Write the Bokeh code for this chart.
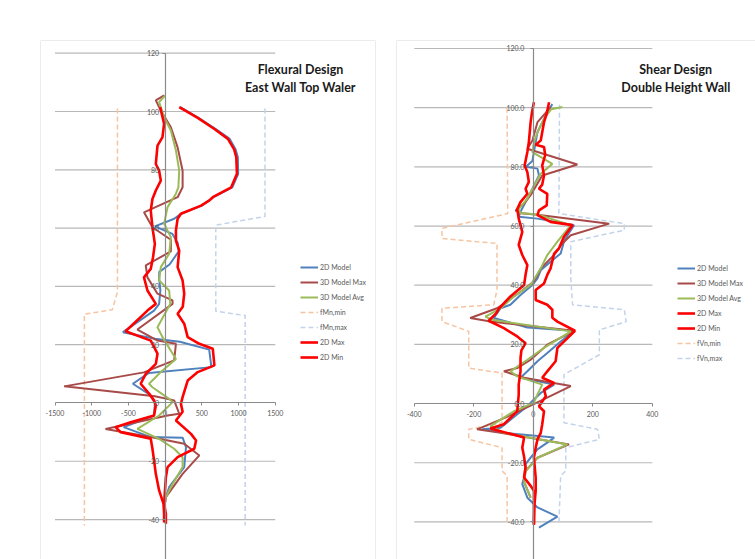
from bokeh.plotting import figure
from bokeh.models import Range1d, FixedTicker, Legend, LegendItem, Label, Span
from bokeh.layouts import row
from bokeh.embed import file_html
from bokeh.resources import INLINE

# ---------------- Left chart: Flexural Design, East Wall Top Waler ----------------
flex_x_ticks = [-1500, -1000, -500, 0, 500, 1000, 1500]
flex_x_labels = ["-1500", "-1000", "-500", "0", "500", "1000", "1500"]
flex_y_ticks = [-40, -20, 0, 20, 40, 60, 80, 100, 120]
flex_y_labels = ["-40", "-20", "0", "20", "40", "60", "80", "100", "120"]
flex_grid_y = [-40, -20, 20, 40, 60, 80, 100, 120]

flex_2d_model_y = [101.5, 97.8, 94.0, 90.6, 87.0, 84.3, 78.6, 74.0, 70.6, 67.7, 64.9, 63.2, 60.6, 58.0, 55.0,
                   52.0, 47.5, 45.0, 43.0, 38.6, 34.0, 31.7, 24.3, 22.0, 21.0, 18.3, 12.3, 10.3, 6.6, 2.8, 0.0,
                   -4.3, -8.3, -11.7, -11.9, -15.2, -22.0, -28.9, -32.3, -34.0]
flex_2d_model_x = [205, 455, 690, 880, 960, 990, 995, 915, 660, 500, 215, 123, -140, 100, 170,
                   185, 60, -80, -82, -65, -82, -151, -575, -140, 200, 600, 630, -220, -440, -205, -140,
                   -151, -565, -196, 238, 284, 260, 55, 10, 0]

flex_3d_max_y = [105.5, 103.8, 100.3, 94.6, 87.7, 79.7, 74.0, 70.6, 65.4, 60.3, 56.0, 52.0, 47.2, 43.1, 37.5,
                 35.2, 34.0, 25.2, 21.4, 20.3, 14.6, 10.5, 5.7, 2.3, 0.9, -3.7, -4.3, -8.9, -11.7, -14.0,
                 -18.0, -24.3, -32.3, -34.0]
flex_3d_max_x = [-14, -127, -59, 78, 170, 238, 238, 170, -288, -173, 78, 78, -264, -241, -104,
                 101, 101, -378, -104, 147, 123, -290, -1375, -140, 123, 192, 33, -812, -196, 260,
                 466, 238, 10, 0]

flex_3d_avg_y = [105.5, 103.2, 98.0, 93.5, 86.6, 79.7, 74.0, 71.8, 67.2, 61.5, 56.9, 51.2, 46.6, 42.0, 38.6,
                 34.0, 26.0, 22.6, 15.1, 10.6, 6.6, 5.4, 1.4, 0.3, -4.3, -8.9, -12.3, -15.7, -18.6, -22.0,
                 -28.9, -32.3, -34.0]
flex_3d_avg_x = [0, -82, -14, 78, 147, 192, 180, 147, 33, -14, 78, 55, -59, -82, 55,
                 70, -104, -36, 147, -59, -219, -173, 55, 101, -82, -378, -82, 123, 238, 238,
                 78, 10, 0]

flex_2d_max_y = [101.5, 97.8, 94.0, 90.6, 87.0, 84.3, 78.6, 74.0, 70.6, 69.5, 67.7, 64.9, 63.2, 59.2, 55.7,
                 52.3, 46.6, 42.0, 37.5, 33.0, 30.6, 27.2, 22.6, 20.3, 18.6, 12.9, 10.6, 7.7, 2.0, -0.3,
                 -3.0, -6.0, -10.6, -12.9, -15.7, -18.6, -22.0, -25.5, -34.6, -38.0, -41.4]
flex_2d_max_x = [192, 444, 671, 855, 940, 969, 978, 900, 649, 603, 489, 215, 170, 147, 147,
                 192, 170, 238, 260, 240, 170, 260, 307, 466, 649, 671, 444, 307, 238, 215,
                 238, 147, 352, 421, 397, 170, 33, 10, -14, 10, 10]

flex_2d_min_y = [101.5, 95.8, 91.2, 88.3, 82.0, 79.7, 76.3, 72.9, 70.0, 66.0, 60.3, 54.6, 50.0, 46.0, 43.1,
                 38.6, 34.0, 31.7, 24.6, 21.4, 16.9, 13.4, 10.0, 6.6, 3.2, 0.9, -0.9, -4.3, -6.6, -8.3,
                 -10.0, -12.3, -15.7, -19.7, -24.3, -30.0, -34.6, -38.0, -41.0]
flex_2d_min_x = [-68, -14, -36, -104, -127, -82, -59, -127, -173, -196, -173, -140, -165, -196, -288,
                 -241, -127, -241, -538, -196, -104, -127, -264, -333, -219, -151, -127, -151, -470, -675,
                 -607, -196, -173, -151, -127, -82, -22, -14, -14]

flex_fmn_min_x = [-650, -650, -720, -1100, -1100]
flex_fmn_min_y = [101, 38, 32, 30.5, -42]
flex_fmn_max_x = [1360, 1360, 690, 690, 1090, 1090]
flex_fmn_max_y = [101, 64, 61, 31.5, 30, -42]

flex_title = ["Flexural Design", "East Wall Top Waler"]

# ---------------- Right chart: Shear Design, Double Height Wall ----------------
shear_x_ticks = [-400, -200, 0, 200, 400]
shear_x_labels = ["-400", "-200", "0", "200", "400"]
shear_y_ticks = [-40, -20, 0, 20, 40, 60, 80, 100, 120]
shear_y_labels = ["-40.0", "-20.0", "0.0", "20.0", "40.0", "60.0", "80.0", "100.0", "120.0"]
shear_grid_y = [-40, -20, 20, 40, 60, 80, 100, 120]

shear_2d_model_y = [101.2, 98.5, 91.7, 86.7, 82.0, 80.0, 79.4, 77.1, 72.6, 69.3, 64.8, 63.1, 62.5, 60.3, 56.9,
                    54.7, 50.7, 47.9, 45.1, 42.3, 40.1, 36.7, 33.4, 32.2, 30.5, 28.9, 25.7, 24.6, 21.0, 17.1,
                    14.3, 10.9, 8.7, 6.4, 3.6, 1.4, -0.9, -8.2, -8.7, -9.9, -11.5, -13.2, -15.5, -18.3, -20.5,
                    -25.0, -27.2, -31.8, -35.1, -38.2, -41.9]
shear_2d_model_x = [64, 47, 14, 5, -3, -25, 14, 19, -3, -20, -43, -49, 14, 137, 115,
                    103, 92, 58, 25, 14, -3, -43, -77, -110, -122, -133, -20, 137, 92, 47,
                    14, -20, -43, 70, 25, 2, -20, -110, -172, -99, 70, 47, 14, -9, -26,
                    -31, -37, -20, 14, 81, 19]

shear_3d_max_y = [100.1, 95.1, 88.9, 86.1, 80.8, 77.1, 70.4, 67.6, 65.2, 64.3, 63.8, 60.8, 56.9, 54.1, 50.2,
                  45.7, 41.2, 37.8, 34.5, 32.2, 28.9, 27.7, 24.6, 19.9, 14.8, 12.0, 10.9, 8.7, 5.9, 0.0,
                  -4.5, -8.7, -9.9, -13.8, -18.3, -22.8, -26.5, -31.8]
shear_3d_max_x = [58, 14, -3, -20, 148, 30, -9, -31, -60, -40, 14, 255, 126, 98, 70,
                  25, 2, -43, -88, -122, -212, -144, 137, 47, -9, -54, -99, -31, 126, 5,
                  -88, -189, -110, 120, 14, -26, -31, -9]

shear_3d_avg_y = [100.2, 99.5, 96.2, 91.7, 88.3, 85.0, 81.0, 77.7, 72.6, 69.3, 65.7, 64.4, 63.9, 60.3, 54.7,
                  50.2, 45.7, 40.1, 36.2, 32.2, 29.4, 28.3, 24.4, 18.8, 14.8, 10.9, 9.2, 6.4, 3.1, 0.3,
                  -2.6, -7.6, -9.9, -13.8, -18.3, -22.8, -26.5, -31.8]
shear_3d_avg_x = [98, 60, 36, 14, 2, -3, 64, 25, -3, -20, -49, -43, 14, 126, 81,
                  47, 25, -9, -65, -110, -161, -138, 126, 36, -20, -77, -54, 30, 14, 2,
                  -65, -144, -99, 115, 14, -26, -31, -9]

shear_2d_max_y = [101.8, 98.0, 95.1, 88.9, 87.5, 86.7, 84.0, 80.5, 77.1, 74.0, 72.6, 70.9, 67.0, 65.3, 63.7,
                  61.4, 60.3, 56.4, 52.4, 50.7, 45.7, 43.5, 40.6, 38.4, 35.0, 33.4, 31.7, 29.0, 27.7, 24.6,
                  22.1, 18.8, 14.3, 10.9, 8.7, 7.0, 4.7, 2.5, -0.9, -2.6, -7.0, -9.9, -12.1, -14.9, -18.3,
                  -25.0, -29.5, -34.0, -40.7]
shear_2d_max_x = [53, 45, 36, 25, 8, 36, 40, 30, 36, 30, 19, 47, 45, 19, 14,
                  58, 132, 103, 86, 70, 58, 47, 36, 8, 8, 47, 64, 64, 81, 140,
                  115, 81, 75, 47, 30, 70, 36, 42, 19, 36, 30, 25, 14, 8, 2,
                  8, 8, 4, 2]

shear_2d_min_y = [101.8, 98.0, 95.1, 88.3, 85.0, 80.5, 78.2, 74.9, 72.6, 70.9, 68.1, 65.7, 62.5, 58.0, 53.6,
                  50.2, 46.8, 43.5, 40.1, 36.2, 32.2, 30.5, 28.0, 25.5, 22.7, 20.4, 18.0, 15.4, 10.9, 6.4,
                  3.0, -2.6, -7.0, -8.4, -11.5, -14.9, -18.0, -21.6, -25.0, -27.8, -29.5, -35.0, -41.0]
shear_2d_min_x = [2, -5, -9, -15, -20, -29, -20, -15, -26, -20, -43, -54, -49, -37, -49,
                  -37, -20, -26, -31, -77, -115, -125, -150, -99, -54, -26, -40, -43, -43, -49,
                  -49, -54, -99, -144, -31, -37, -31, -26, -31, -9, 2, 2, 2]

shear_fvn_min_x = [-88, -86, -307, -307, -122, -122, -133, -307, -307, -217, -217, -105, -105, -217, -217,
                   -105, -105, -88, -88]
shear_fvn_min_y = [100, 64.2, 59.2, 55.8, 54.1, 38.4, 33.4, 32.2, 27.7, 24.4, 12.0, 10.3, -6.5, -8.7, -12.1,
                   -14.9, -22.8, -24.4, -40.7]
shear_fvn_max_x = [88, 86, 306, 306, 126, 126, 132, 306, 312, 222, 222, 103, 103, 216, 222,
                   109, 109, 92, 86]
shear_fvn_max_y = [101, 64.2, 60.8, 58.6, 54.7, 42.3, 33.4, 31.7, 27.7, 24.9, 16.5, 9.8, -6.5, -8.7, -12.1,
                   -14.9, -22.8, -24.4, -40.7]

shear_title = ["Shear Design", "Double Height Wall"]

# ---------------- styling ----------------
FONT = "Lato"
C_MODEL = "#4F81BD"
C_3DMAX = "#A84B48"
C_3DAVG = "#9BBB59"
C_RED = "#FF0000"
C_FMIN = "#F6C4A0"
C_FMAX = "#C3D3EA"
TEXT = "#595959"
AXIS = "#8a8a8a"
GRID = "#b8b8b8"
BORDER = "#d9d9d9"


def build(width, height, b_left, b_top, b_right, xr, yr, x_ticks, x_labels, y_ticks, y_labels,
          grid_y, title_lines, title_x, title_y, y_standoff):
    p = figure(width=width, height=height, x_range=Range1d(*xr), y_range=Range1d(*yr),
               output_backend="svg", toolbar_location=None, title=None,
               min_border_left=b_left, min_border_right=b_right,
               min_border_top=b_top, min_border_bottom=0)
    p.outline_line_color = None
    p.grid.visible = False
    p.background_fill_color = "white"
    p.border_fill_color = "white"

    n = len(grid_y)
    p.segment(x0=[x_ticks[0]] * n, y0=grid_y, x1=[x_ticks[-1]] * n, y1=grid_y,
              line_color=GRID, line_width=1.2)

    xa = p.xaxis[0]
    xa.fixed_location = 0
    xa.ticker = FixedTicker(ticks=x_ticks)
    xa.major_label_overrides = dict(zip(x_ticks, x_labels))
    xa.bounds = (x_ticks[0], x_ticks[-1])
    ya = p.yaxis[0]
    ya.fixed_location = 0
    ya.ticker = FixedTicker(ticks=y_ticks)
    ya.major_label_overrides = dict(zip(y_ticks, y_labels))
    ya.bounds = (yr[0], y_ticks[-1])
    for ax in (xa, ya):
        ax.axis_line_color = AXIS
        ax.axis_line_width = 1.2
        ax.major_tick_line_color = AXIS
        ax.major_tick_in = 0
        ax.major_tick_out = 3
        ax.minor_tick_line_color = None
        ax.major_label_text_font = FONT
        ax.major_label_text_font_size = "7px"
        ax.major_label_text_color = TEXT
    xa.major_label_standoff = 4
    ya.major_label_standoff = y_standoff

    for i, t in enumerate(title_lines):
        p.add_layout(Label(x=title_x, y=title_y[i], text=t, text_align="center",
                           text_baseline="middle", text_font=FONT, text_font_style="bold",
                           text_font_size="12.5px", text_color="#1a1a1a"))

    p.add_layout(Span(location=xr[0], dimension="height", line_color=BORDER, line_width=1))
    p.add_layout(Span(location=yr[1], dimension="width", line_color=BORDER, line_width=1))
    return p


# ---- left figure ----
FLEX_XR = (-1697.5, 2865.0)
FLEX_YR = (-53.7, 124.36)
p1 = build(385, 559, 40, 40, 10, FLEX_XR, FLEX_YR,
           flex_x_ticks, flex_x_labels, flex_y_ticks, flex_y_labels, flex_grid_y,
           flex_title, 1843.7, [114.3, 108.1], 3)
p1.add_layout(Span(location=FLEX_XR[1], dimension="height", line_color=BORDER, line_width=1))

r1 = {}
r1["fMn,min"] = p1.line(flex_fmn_min_x, flex_fmn_min_y, line_color=C_FMIN, line_width=1.5, line_dash="5 3")
r1["fMn,max"] = p1.line(flex_fmn_max_x, flex_fmn_max_y, line_color=C_FMAX, line_width=1.5, line_dash="5 3")
r1["2D Model"] = p1.line(flex_2d_model_x, flex_2d_model_y, line_color=C_MODEL, line_width=2)
r1["3D Model Max"] = p1.line(flex_3d_max_x, flex_3d_max_y, line_color=C_3DMAX, line_width=2)
r1["3D Model Avg"] = p1.line(flex_3d_avg_x, flex_3d_avg_y, line_color=C_3DAVG, line_width=2)
r1["2D Max"] = p1.line(flex_2d_max_x, flex_2d_max_y, line_color=C_RED, line_width=2.6)
r1["2D Min"] = p1.line(flex_2d_min_x, flex_2d_min_y, line_color=C_RED, line_width=2.6)
order1 = ["2D Model", "3D Model Max", "3D Model Avg", "fMn,min", "fMn,max", "2D Max", "2D Min"]

# ---- right figure ----
SHEAR_XR = (-459.8, 746.8)
SHEAR_YR = (-52.7, 122.7)
p2 = build(370, 559, 11, 38, 0, SHEAR_XR, SHEAR_YR,
           shear_x_ticks, shear_x_labels, shear_y_ticks, shear_y_labels, shear_grid_y,
           shear_title, 479.0, [113.0, 106.9], 6)

r2 = {}
r2["fVn,min"] = p2.line(shear_fvn_min_x, shear_fvn_min_y, line_color=C_FMIN, line_width=1.5, line_dash="5 3")
r2["fVn,max"] = p2.line(shear_fvn_max_x, shear_fvn_max_y, line_color=C_FMAX, line_width=1.5, line_dash="5 3")
r2["2D Model"] = p2.line(shear_2d_model_x, shear_2d_model_y, line_color=C_MODEL, line_width=2)
r2["3D Model Max"] = p2.line(shear_3d_max_x, shear_3d_max_y, line_color=C_3DMAX, line_width=2)
r2["3D Model Avg"] = p2.line(shear_3d_avg_x, shear_3d_avg_y, line_color=C_3DAVG, line_width=2)
r2["2D Max"] = p2.line(shear_2d_max_x, shear_2d_max_y, line_color=C_RED, line_width=2.6)
r2["2D Min"] = p2.line(shear_2d_min_x, shear_2d_min_y, line_color=C_RED, line_width=2.6)
order2 = ["2D Model", "3D Model Max", "3D Model Avg", "2D Max", "2D Min", "fVn,min", "fVn,max"]


def make_legend(rends, order, loc):
    items = [LegendItem(label=k, renderers=[rends[k]]) for k in order]
    return Legend(items=items, location=loc, orientation="vertical",
                  background_fill_alpha=0, border_line_color=None, padding=0, margin=0,
                  spacing=5, glyph_width=18, glyph_height=10, label_height=10,
                  label_standoff=2, label_text_font=FONT, label_text_font_size="7px",
                  label_text_color=TEXT)


p1.add_layout(make_legend(r1, order1, (260, 197)))
p2.add_layout(make_legend(r2, order2, (281, 196)))

layout = row(p1, p2)
open("out.html", "w").write(file_html(layout, INLINE))
